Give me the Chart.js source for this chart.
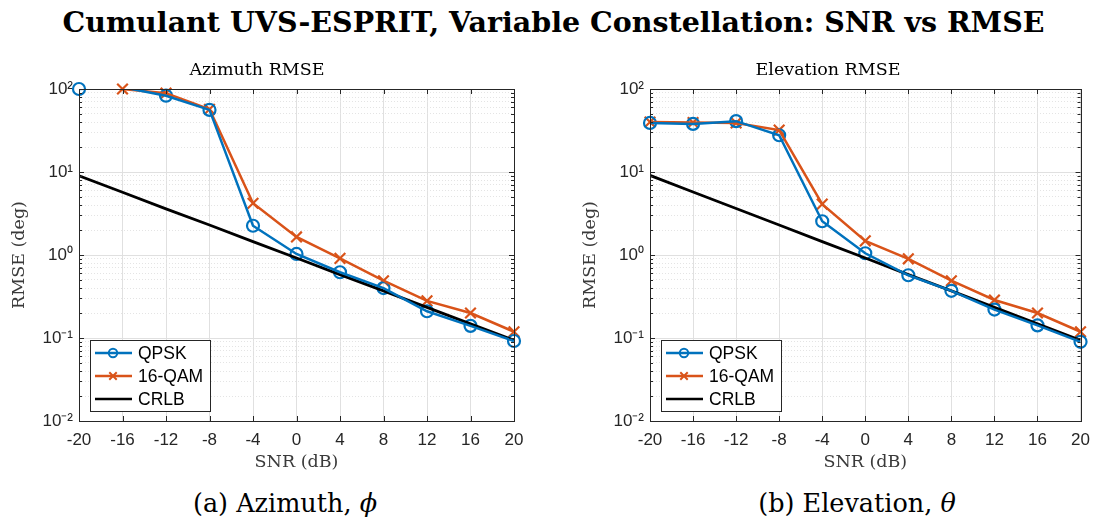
<!DOCTYPE html>
<html>
<head>
<meta charset="utf-8">
<script src="https://cdn.jsdelivr.net/npm/chart.js@4.4.1/dist/chart.umd.min.js"></script>
<style>
  body { margin: 0; width: 1099px; height: 527px; background: #fff; position: relative; overflow: hidden; }
  #title { position: absolute; top: 5px; left: 0; width: 1107px; text-align: center;
           font: bold 28.5px "DejaVu Serif", serif; color: #000; white-space: nowrap; }
  .panel { position: absolute; top: 50px; height: 430px; }
  .caption { position: absolute; top: 488px; text-align: center; font: 25.5px "DejaVu Serif", serif; color: #000; }
</style>
</head>
<body>
<div id="title">Cumulant UVS-ESPRIT, Variable Constellation: SNR vs RMSE</div>
<div class="panel" style="left:0; width:540px;"><canvas id="azChart"></canvas></div>
<div class="panel" style="left:571px; width:528px;"><canvas id="elChart"></canvas></div>
<div class="caption" style="left:0; width:570px;">(a) Azimuth, <i>ϕ</i></div>
<div class="caption" style="left:614px; width:486px;">(b) Elevation, <i>θ</i></div>

<script>
// SNR points (dB)
const snr = [-20, -16, -12, -8, -4, 0, 4, 8, 12, 16, 20];

// Azimuth RMSE (deg)
const azQpsk = [100, 105, 83, 56, 2.25, 1.03, 0.62, 0.40, 0.21, 0.14, 0.092];
const azQam  = [150, 100, 89, 57, 4.2, 1.65, 0.91, 0.49, 0.28, 0.20, 0.119];
const azCrlb = [9.0, 5.7, 3.6, 2.3, 1.45, 0.92, 0.58, 0.37, 0.234, 0.148, 0.094];

// Elevation RMSE (deg)
const elQpsk = [39, 38, 41, 27.7, 2.55, 1.05, 0.57, 0.37, 0.22, 0.142, 0.090];
const elQam  = [40, 39.5, 39, 32, 4.1, 1.48, 0.90, 0.49, 0.287, 0.20, 0.119];
const elCrlb = [9.1, 5.75, 3.63, 2.3, 1.45, 0.92, 0.58, 0.37, 0.234, 0.148, 0.094];

// axis ticks
const xTicks = [-20, -16, -12, -8, -4, 0, 4, 8, 12, 16, 20];
const yMajor = [0.01, 0.1, 1, 10, 100];
const yLabels = ['10⁻²', '10⁻¹', '10⁰', '10¹', '10²'];

const Y_MIN = 0.01, Y_MAX = 100;
const BLUE = '#0072BD', ORANGE = '#D95319', AXIS = '#262626';
const SANS = '"Liberation Sans", Arial, sans-serif';
const SERIF = '"DejaVu Serif", serif';
const LINE_W = 2.5, CIRCLE_R = 6, CROSS_R = 7.5;

const yMinor = [];
for (let d = 0; d < yMajor.length - 1; d++) {
    for (let k = 2; k <= 9; k++) yMinor.push(k * yMajor[d]);
}

const pts = (ys) => snr.map((x, i) => ({ x: x, y: ys[i] }));

// MATLAB-style box with inward tick marks
const boxPlugin = {
    id: 'box',
    afterDraw(chart) {
        const { ctx, chartArea: a, scales } = chart;
        ctx.save();
        ctx.strokeStyle = AXIS;
        ctx.lineWidth = 1;
        ctx.beginPath();
        scales.x.ticks.forEach(t => {
            const px = Math.round(scales.x.getPixelForValue(t.value)) + 0.5;
            ctx.moveTo(px, a.bottom); ctx.lineTo(px, a.bottom - 5);
            ctx.moveTo(px, a.top); ctx.lineTo(px, a.top + 5);
        });
        scales.y.ticks.forEach(t => {
            const py = Math.round(scales.y.getPixelForValue(t.value)) + 0.5;
            ctx.moveTo(a.left, py); ctx.lineTo(a.left + 5, py);
            ctx.moveTo(a.right, py); ctx.lineTo(a.right - 5, py);
        });
        scales.yMinor.ticks.forEach(t => {
            const py = Math.round(scales.yMinor.getPixelForValue(t.value)) + 0.5;
            ctx.moveTo(a.left, py); ctx.lineTo(a.left + 3, py);
            ctx.moveTo(a.right, py); ctx.lineTo(a.right - 3, py);
        });
        ctx.stroke();
        ctx.strokeRect(Math.round(a.left) + 0.5, Math.round(a.top) + 0.5,
                       Math.round(a.right - a.left), Math.round(a.bottom - a.top));
        ctx.restore();
    }
};

// legend box inside the lower-left corner of the plot
const insideLegend = {
    id: 'insideLegend',
    afterDraw(chart) {
        const { ctx, chartArea: a } = chart;
        const items = chart.data.datasets.filter(d => d.legend);
        const w = 120, rowH = 23, h = rowH * items.length + 2;
        const x0 = a.left + 11, y0 = a.bottom - 10 - h;
        ctx.save();
        ctx.fillStyle = '#fff';
        ctx.fillRect(x0, y0, w, h);
        ctx.strokeStyle = AXIS;
        ctx.lineWidth = 1;
        ctx.strokeRect(x0 + 0.5, y0 + 0.5, w, h);
        items.forEach((d, i) => {
            const cy = y0 + 13 + i * rowH;
            ctx.strokeStyle = d.borderColor;
            ctx.lineWidth = LINE_W;
            ctx.beginPath();
            ctx.moveTo(x0 + 5, cy); ctx.lineTo(x0 + 42, cy);
            ctx.stroke();
            if (d.marker) {
                ctx.lineWidth = 2;
                ctx.fillStyle = 'rgba(0,0,0,0)';
                Chart.helpers.drawPoint(ctx, {
                    pointStyle: d.marker, rotation: 0, borderWidth: 2, radius: d.markerSize * 0.7
                }, x0 + 23, cy);
            }
            ctx.fillStyle = '#000';
            ctx.font = '17.5px ' + SANS;
            ctx.textBaseline = 'middle';
            ctx.fillText(d.label, x0 + 48, cy + 1);
        });
        ctx.restore();
    }
};

function makeChart(id, title, qpsk, qam, crlb, padRight) {
    const markerRadius = (r) => (c) => (c.raw && c.raw.y > Y_MAX ? 0 : r);
    const markerClip = { left: 10, right: 10, top: 10, bottom: 10 };
    return new Chart(document.getElementById(id), {
        type: 'scatter',
        data: {
            datasets: [
                // lines, clipped at the axes
                { label: 'QPSK', legend: true, marker: 'circle', markerSize: CIRCLE_R, data: pts(qpsk),
                  showLine: true, borderColor: BLUE, borderWidth: LINE_W, pointRadius: 0, clip: 0 },
                { label: '16-QAM', legend: true, marker: 'crossRot', markerSize: CROSS_R, data: pts(qam),
                  showLine: true, borderColor: ORANGE, borderWidth: LINE_W, pointRadius: 0, clip: 0 },
                { label: 'CRLB', legend: true, data: pts(crlb), showLine: true,
                  borderColor: '#000', borderWidth: LINE_W + 0.3, pointRadius: 0, clip: 0 },
                // markers, drawn whole on the boundary
                { label: 'QPSK markers', data: pts(qpsk), showLine: false,
                  pointStyle: 'circle', pointRadius: markerRadius(CIRCLE_R),
                  pointBorderColor: BLUE, pointBackgroundColor: 'rgba(0,0,0,0)', pointBorderWidth: 2.2,
                  clip: markerClip },
                { label: '16-QAM markers', data: pts(qam), showLine: false,
                  pointStyle: 'crossRot', pointRadius: markerRadius(CROSS_R),
                  pointBorderColor: ORANGE, pointBorderWidth: 2.2, clip: markerClip }
            ]
        },
        options: {
            responsive: true,
            maintainAspectRatio: false,
            animation: false,
            events: [],
            layout: { padding: { left: 0, right: padRight, top: 0, bottom: 0 } },
            plugins: {
                legend: { display: false },
                tooltip: { enabled: false },
                title: {
                    display: true, text: title, color: '#000',
                    font: { family: SERIF, size: 17.5, weight: 'normal' },
                    padding: { top: 10, bottom: 8 }
                }
            },
            scales: {
                x: {
                    type: 'linear', min: -20, max: 20,
                    afterBuildTicks: (s) => { s.ticks = xTicks.map(v => ({ value: v })); },
                    afterFit: (s) => { s.height = 59; },
                    grid: { color: '#e0e0e0', lineWidth: 1, drawTicks: false },
                    border: { display: false },
                    ticks: { color: AXIS, font: { family: SANS, size: 17 }, padding: 9, maxRotation: 0 },
                    title: { display: true, text: 'SNR (dB)', color: '#3a3a3a',
                             font: { family: SERIF, size: 17.5 }, padding: { top: 0, bottom: 7 } }
                },
                y: {
                    type: 'logarithmic', min: Y_MIN, max: Y_MAX,
                    afterBuildTicks: (s) => { s.ticks = yMajor.map(v => ({ value: v })); },
                    afterFit: (s) => { s.width = 79; },
                    grid: { color: '#e0e0e0', lineWidth: 1, drawTicks: false },
                    border: { display: false },
                    ticks: {
                        color: AXIS, font: { family: SANS, size: 17 }, padding: 6,
                        callback: (v, i) => yLabels[i]
                    },
                    title: { display: true, text: 'RMSE (deg)', color: '#3a3a3a',
                             font: { family: SERIF, size: 17.5 }, padding: { top: 9, bottom: 0 } }
                },
                yMinor: {
                    type: 'logarithmic', min: Y_MIN, max: Y_MAX, position: 'left',
                    afterBuildTicks: (s) => { s.ticks = yMinor.map(v => ({ value: v })); },
                    afterFit: (s) => { s.width = 0; },
                    grid: { color: '#e4e4e4', lineWidth: 1, drawTicks: false },
                    border: { display: false, dash: [1, 2] },
                    ticks: { display: false }
                }
            }
        },
        plugins: [boxPlugin, insideLegend]
    });
}

makeChart('azChart', 'Azimuth RMSE', azQpsk, azQam, azCrlb, 26);
makeChart('elChart', 'Elevation RMSE', elQpsk, elQam, elCrlb, 14);
</script>
</body>
</html>
